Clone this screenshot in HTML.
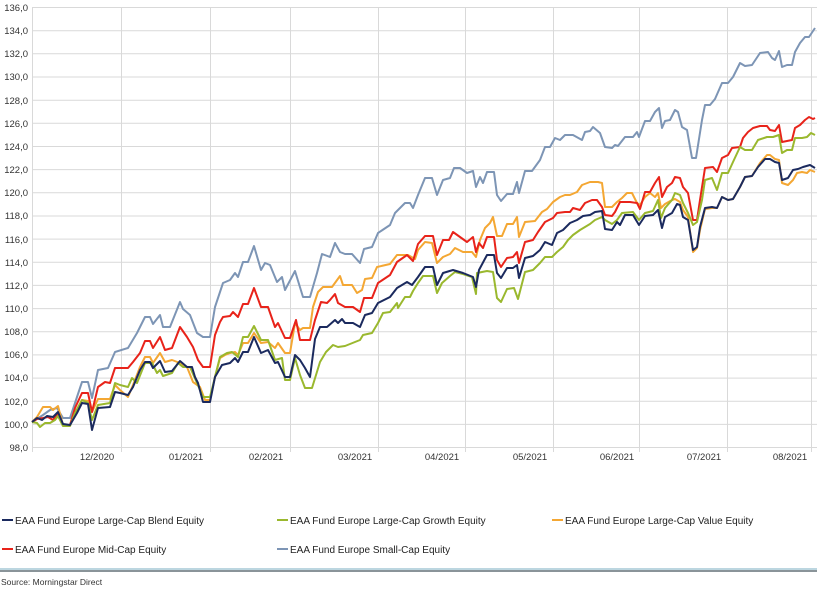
<!DOCTYPE html>
<html><head><meta charset="utf-8"><style>
body{margin:0;background:#fff;width:817px;height:601px;overflow:hidden;font-family:"Liberation Sans",Verdana,sans-serif}
</style></head><body>
<svg width="817" height="601" xmlns="http://www.w3.org/2000/svg" style="position:absolute;left:0;top:0">
<g stroke="#d9d9d9" stroke-width="1">
<line x1="32" y1="7.5" x2="817" y2="7.5"/><line x1="32" y1="30.7" x2="817" y2="30.7"/><line x1="32" y1="53.8" x2="817" y2="53.8"/><line x1="32" y1="77" x2="817" y2="77"/><line x1="32" y1="100.2" x2="817" y2="100.2"/><line x1="32" y1="123.3" x2="817" y2="123.3"/><line x1="32" y1="146.5" x2="817" y2="146.5"/><line x1="32" y1="169.6" x2="817" y2="169.6"/><line x1="32" y1="192.8" x2="817" y2="192.8"/><line x1="32" y1="216" x2="817" y2="216"/><line x1="32" y1="239.1" x2="817" y2="239.1"/><line x1="32" y1="262.3" x2="817" y2="262.3"/><line x1="32" y1="285.4" x2="817" y2="285.4"/><line x1="32" y1="308.6" x2="817" y2="308.6"/><line x1="32" y1="331.8" x2="817" y2="331.8"/><line x1="32" y1="354.9" x2="817" y2="354.9"/><line x1="32" y1="378.1" x2="817" y2="378.1"/><line x1="32" y1="401.2" x2="817" y2="401.2"/><line x1="32" y1="424.4" x2="817" y2="424.4"/><line x1="32" y1="447.5" x2="817" y2="447.5"/>
<line x1="32.5" y1="7" x2="32.5" y2="452"/>
<line x1="121.5" y1="7" x2="121.5" y2="452"/><line x1="210.5" y1="7" x2="210.5" y2="452"/><line x1="290.5" y1="7" x2="290.5" y2="452"/><line x1="378.5" y1="7" x2="378.5" y2="452"/><line x1="465.5" y1="7" x2="465.5" y2="452"/><line x1="553.5" y1="7" x2="553.5" y2="452"/><line x1="639.5" y1="7" x2="639.5" y2="452"/><line x1="727.5" y1="7" x2="727.5" y2="452"/><line x1="811.5" y1="7" x2="811.5" y2="452"/>
</g>
<g font-size="9.5" fill="#333" text-anchor="end">
<text x="28" y="11">136,0</text><text x="28" y="34">134,0</text><text x="28" y="57">132,0</text><text x="28" y="80">130,0</text><text x="28" y="104">128,0</text><text x="28" y="127">126,0</text><text x="28" y="150">124,0</text><text x="28" y="173">122,0</text><text x="28" y="196">120,0</text><text x="28" y="219">118,0</text><text x="28" y="243">116,0</text><text x="28" y="266">114,0</text><text x="28" y="289">112,0</text><text x="28" y="312">110,0</text><text x="28" y="335">108,0</text><text x="28" y="358">106,0</text><text x="28" y="381">104,0</text><text x="28" y="405">102,0</text><text x="28" y="428">100,0</text><text x="28" y="451">98,0</text>
</g>
<g font-size="9.5" fill="#333" text-anchor="middle">
<text x="97" y="460">12/2020</text><text x="186" y="460">01/2021</text><text x="266" y="460">02/2021</text><text x="355" y="460">03/2021</text><text x="442" y="460">04/2021</text><text x="530" y="460">05/2021</text><text x="617" y="460">06/2021</text><text x="704" y="460">07/2021</text><text x="790" y="460">08/2021</text>
</g>
<g fill="none" stroke-width="2" stroke-linejoin="round">
<polyline stroke="#7d95b5" points="32,422 43,415 50,410 57,408 63,418 70,418 75,403 82,382 88,382 92,398 98,370 108,368 115,352 128,348 137,333 145,317 150,317 153,324 160,315 163,327 170,327 180,302 183,309 190,315 197,333 203,337 210,337 215,307 223,283 230,280 235,273 238,277 243,262 248,262 254,246 261,270 265,263 270,265 277,282 282,277 285,290 295,271 303,297 310,297 317,273 322,254 330,257 335,243 340,252 345,254 352,254 360,263 364,249 372,247 378,233 390,225 395,213 405,203 410,203 413,208 418,195 425,178 432,178 437,195 443,180 450,178 454,168 460,168 467,173 473,171 476,187 480,177 483,183 487,172 494,172 497,195 501,201 507,194 513,194 517,182 519,193 525,171 532,171 540,160 545,147 550,147 555,138 560,140 565,135 573,135 582,140 585,132 590,131 593,127 600,133 605,147 612,148 615,145 618,146 625,137 633,137 637,132 639,137 645,121 650,121 655,112 659,108 662,128 665,121 670,120 675,110 678,112 682,127 687,130 692,158 696,158 702,120 705,105 710,105 715,99 722,83 728,83 733,77 740,63 745,66 752,65 760,53 768,52 772,58 775,60 779,51 782,67 787,65 792,65 795,52 800,43 805,37 809,37 815,28"/>
<polyline stroke="#f4a733" points="32,422 37,417 43,407 50,407 53,410 58,406 63,425 70,425 75,413 82,400 88,401 92,412 98,399 110,399 115,385 120,390 128,397 133,385 140,367 145,357 150,357 153,363 160,353 165,362 172,360 180,363 187,367 193,382 200,387 205,400 210,400 215,377 220,358 225,355 230,353 235,352 238,355 243,343 248,343 254,333 261,343 268,342 275,348 278,343 285,353 290,353 295,323 300,330 303,328 310,328 313,307 318,292 323,287 332,287 340,276 343,285 352,285 357,293 362,290 365,279 372,278 377,267 390,264 397,255 408,255 415,259 418,250 425,242 432,243 437,263 443,257 450,254 455,248 463,252 472,252 476,257 480,240 485,228 490,223 493,217 497,236 502,236 507,224 513,224 517,217 519,237 525,222 535,221 542,212 547,209 553,202 560,197 565,195 570,195 577,192 582,185 590,182 598,182 602,183 605,207 612,207 617,202 622,198 627,193 632,193 637,203 640,205 645,197 650,193 655,197 658,193 661,208 665,204 672,200 675,199 680,202 683,210 688,217 693,252 697,248 700,230 705,209 712,208 717,208 722,197 728,200 733,199 740,187 745,177 752,176 760,163 767,155 770,155 775,159 779,160 782,183 788,185 793,180 797,173 802,172 807,173 810,170 815,172"/>
<polyline stroke="#e8231a" points="32,422 37,419 43,418 48,417 53,420 58,413 63,425 70,425 75,408 82,393 88,393 92,412 98,387 105,382 110,383 115,368 128,368 133,362 140,353 145,341 150,341 153,348 160,337 165,350 172,348 180,327 187,337 193,347 198,360 203,367 210,367 215,335 220,322 223,317 230,316 233,312 238,317 243,304 248,304 254,288 261,307 268,307 275,327 278,323 285,338 290,338 296,320 300,340 310,340 315,320 321,302 327,303 330,300 335,294 338,303 345,307 353,307 360,312 364,298 372,298 378,283 390,275 397,262 407,255 413,261 418,244 425,236 433,236 437,255 443,240 449,240 453,232 460,237 467,242 473,237 476,252 479,243 483,248 487,237 494,237 497,260 501,267 507,258 513,257 517,252 519,263 525,242 533,240 538,232 545,222 553,218 557,213 565,212 570,212 573,208 580,210 585,203 592,200 597,200 602,207 605,215 612,216 615,212 620,202 630,202 637,203 640,209 645,192 650,192 655,183 659,177 662,197 667,187 672,183 675,177 680,178 683,187 688,193 693,220 697,220 700,200 705,168 713,167 717,172 722,158 728,155 732,148 740,147 743,138 748,132 753,128 760,126 767,126 770,130 775,131 779,125 782,142 792,140 795,128 800,125 805,120 809,117 813,119 815,118"/>
<polyline stroke="#9ab82e" points="32,422 37,423 40,427 45,423 50,423 55,420 58,416 63,426 70,426 75,413 82,400 88,403 92,420 98,405 110,403 115,383 120,385 128,387 132,378 137,383 145,363 152,363 157,373 160,370 163,376 172,373 178,363 183,367 190,367 197,383 203,397 210,397 215,377 220,357 227,353 232,352 238,357 243,337 248,337 254,326 261,340 268,340 275,360 282,358 285,380 290,380 295,358 300,375 305,388 312,388 316,375 320,362 326,352 333,345 338,347 345,346 360,340 363,335 372,333 378,323 383,313 390,312 397,303 398,308 405,297 410,297 413,291 418,283 423,276 433,276 437,293 442,283 450,276 455,272 463,274 472,277 476,294 477,273 487,271 493,272 497,298 501,302 507,289 514,288 518,299 525,272 533,270 540,263 545,257 552,257 557,252 563,247 568,240 573,235 580,230 585,227 590,224 595,220 602,217 605,220 612,224 617,220 622,213 633,212 639,220 645,213 653,211 658,200 661,218 665,208 672,200 675,193 680,195 683,203 688,213 693,225 697,222 702,200 705,180 712,178 717,190 722,173 728,173 733,162 740,147 745,150 752,150 758,140 767,137 773,137 779,135 782,153 787,150 792,150 795,138 802,138 807,137 811,133 815,135"/>
<polyline stroke="#1b2a5e" points="32,422 37,418 42,420 47,416 53,417 58,412 63,424 70,425 77,413 82,403 88,404 92,430 98,408 110,407 115,392 120,393 128,395 133,387 140,370 145,362 150,362 153,368 160,361 165,372 172,371 180,361 187,367 192,367 195,377 198,383 203,402 210,402 215,377 222,365 230,363 235,358 238,362 243,352 248,352 254,337 261,353 268,350 275,363 278,362 285,377 290,377 295,355 300,360 305,368 310,377 315,339 320,327 327,327 335,320 338,323 342,319 345,323 353,323 360,327 365,315 372,313 378,303 390,297 397,288 407,282 412,285 418,277 425,267 433,267 437,285 443,273 453,270 463,273 473,277 476,287 479,270 487,255 494,255 497,273 501,278 507,268 513,268 517,265 519,278 525,258 533,256 540,250 545,242 552,245 557,233 563,230 570,223 577,220 583,216 590,215 595,212 602,211 605,229 612,230 617,222 620,225 625,215 633,215 639,225 645,216 653,215 658,210 662,228 665,217 672,213 677,204 680,205 683,217 688,220 693,250 697,247 700,227 705,208 712,207 717,208 722,197 728,200 733,199 740,187 745,177 752,176 758,167 765,159 770,159 775,162 779,163 782,180 788,178 793,170 798,169 803,167 810,165 815,168"/>
</g>
<g stroke-width="2">
<line x1="2" y1="520" x2="13" y2="520" stroke="#1b2a5e"/>
<line x1="277" y1="520" x2="288" y2="520" stroke="#9ab82e"/>
<line x1="552" y1="520" x2="563" y2="520" stroke="#f4a733"/>
<line x1="2" y1="549" x2="13" y2="549" stroke="#e8231a"/>
<line x1="277" y1="549" x2="288" y2="549" stroke="#7d95b5"/>
</g>
<g font-size="10" fill="#222">
<text x="15" y="524">EAA Fund Europe Large-Cap Blend Equity</text>
<text x="290" y="524">EAA Fund Europe Large-Cap Growth Equity</text>
<text x="565" y="524">EAA Fund Europe Large-Cap Value Equity</text>
<text x="15" y="553">EAA Fund Europe Mid-Cap Equity</text>
<text x="290" y="553">EAA Fund Europe Small-Cap Equity</text>
</g>
<rect x="0" y="568" width="817" height="2" fill="#bcd6e0"/>
<rect x="0" y="570" width="817" height="2" fill="#8a9499"/>
<text x="1" y="585" font-size="8.5" fill="#333">Source: Morningstar Direct</text>
</svg>
</body></html>
